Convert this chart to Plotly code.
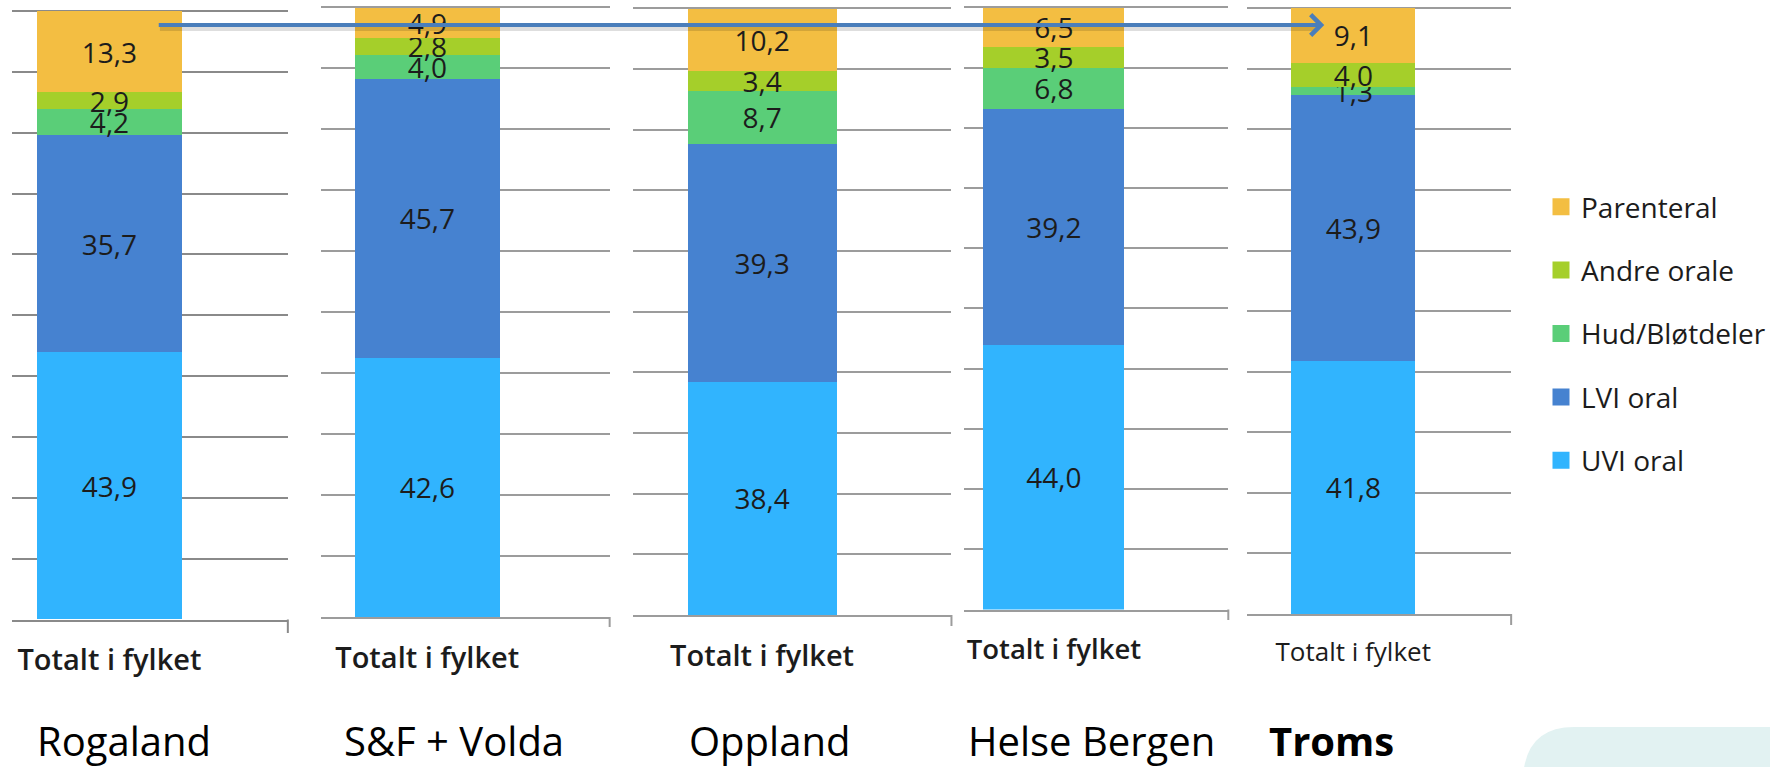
import plotly.graph_objects as go

# ---------------- data ----------------
regions = ["Rogaland", "S&F + Volda", "Oppland", "Helse Bergen", "Troms"]
category = "Totalt i fylket"
series_names = ["UVI oral", "LVI oral", "Hud/Bløtdeler", "Andre orale", "Parenteral"]
uvi_oral = [43.9, 42.6, 38.4, 44.0, 41.8]
lvi_oral = [35.7, 45.7, 39.3, 39.2, 43.9]
hud_blotdeler = [4.2, 4.0, 8.7, 6.8, 1.3]
andre_orale = [2.9, 2.8, 3.4, 3.5, 4.0]
parenteral = [13.3, 4.9, 10.2, 6.5, 9.1]

series_values = [uvi_oral, lvi_oral, hud_blotdeler, andre_orale, parenteral]
series_colors = ["#31b4fe", "#4682d0", "#5ace78", "#a5cf2a", "#f3be42"]

# ---------------- layout geometry (pixels) ----------------
W, H = 1771, 767
panels = [
    dict(gl=12, gr=288, bl=37, br=182, y0=619.5, y100=11.0, tick=633, tx=35, lab=29, lw=600, grid="#8a8a8a", bold=False),
    dict(gl=321, gr=610, bl=355, br=500, y0=617.0, y100=7.3, tick=627, tx=342, lab=29, lw=600, grid="#9c9c9c", bold=False),
    dict(gl=633, gr=952, bl=688, br=837, y0=615.0, y100=8.3, tick=626, tx=687, lab=29, lw=600, grid="#9c9c9c", bold=False),
    dict(gl=965, gr=1229, bl=984, br=1125, y0=609.5, y100=7.5, tick=620, tx=967, lab=27.5, lw=600, grid="#9c9c9c", bold=False),
    dict(gl=1248, gr=1512, bl=1292, br=1416, y0=614.0, y100=8.3, tick=625, tx=1268, lab=26, lw=400, grid="#9c9c9c", bold=True),
]
FONT = "Open Sans"
TXT = "#1c1c1c"
YTOP = 100.6  # range top slightly above 100 so the 100 gridline is drawn


def fmt(v):
    return f"{v:.1f}".replace(".", ",")


fig = go.Figure()
layout = dict(
    width=W, height=H, margin=dict(l=0, r=0, t=0, b=0),
    paper_bgcolor="white", plot_bgcolor="white", template="none",
    barmode="stack", bargap=0, showlegend=True,
    font=dict(family=FONT, color=TXT),
)
shapes = []
annotations = []

for i, p in enumerate(panels):
    n = i + 1
    xa = "x" if n == 1 else f"x{n}"
    ya = "y" if n == 1 else f"y{n}"
    bw = p["br"] - p["bl"]
    rng = [-0.5 - (p["bl"] - p["gl"]) / bw, 0.5 + (p["gr"] - p["br"]) / bw]
    top_px = p["y0"] - (p["y0"] - p["y100"]) * YTOP / 100
    for s, vals, col in zip(series_names, series_values, series_colors):
        fig.add_trace(go.Bar(
            x=[category], y=[vals[i]], name=s, xaxis=xa, yaxis=ya, width=1,
            marker=dict(color=col, line=dict(width=0)),
            text=[fmt(vals[i])], textposition="inside", insidetextanchor="middle",
            textangle=0, constraintext="none",
            textfont=dict(family=FONT, size=28, color=TXT),
            showlegend=False, hoverinfo="skip",
        ))
    layout["xaxis" if n == 1 else f"xaxis{n}"] = dict(
        domain=[p["gl"] / W, p["gr"] / W], anchor=ya, type="category", range=rng,
        showgrid=False, zeroline=False, showline=True, linecolor=p["grid"], linewidth=2,
        ticks="", ticklabelstandoff=14,
        tickfont=dict(family=FONT, size=p["lab"], color=TXT, weight=p["lw"]),
        fixedrange=True,
    )
    layout["yaxis" if n == 1 else f"yaxis{n}"] = dict(
        domain=[(H - p["y0"]) / H, (H - top_px) / H], anchor=xa, range=[0, YTOP],
        tickvals=list(range(0, 101, 10)), showgrid=True, gridcolor=p["grid"], gridwidth=2,
        showticklabels=False, zeroline=False, showline=False, ticks="", fixedrange=True,
    )
    # right-end tick mark of the category axis
    shapes.append(dict(type="line", xref="paper", yref="paper",
                       x0=p["gr"] / W, x1=p["gr"] / W,
                       y0=(H - p["y0"]) / H, y1=(H - p["tick"]) / H,
                       line=dict(color=p["grid"], width=2)))
    annotations.append(dict(
        text=regions[i], xref="paper", yref="paper", x=p["tx"] / W, y=1 - 740 / H,
        xanchor="left", yanchor="middle", showarrow=False,
        font=dict(family=FONT, size=40, color="#000000", weight=700 if p["bold"] else 400),
    ))

# legend entries (no data, only for the legend)
for rank, (s, col) in enumerate(zip(series_names, series_colors)):
    fig.add_trace(go.Bar(
        x=[None], y=[None], name=s, xaxis="x5", yaxis="y5", width=1,
        marker=dict(color=col, line=dict(color=col, width=5)),
        legendgroup=s, legendrank=10 - rank, showlegend=True, hoverinfo="skip",
    ))

layout["legend"] = dict(
    x=1542 / W, xanchor="left", y=1 - 182 / H, yanchor="top",
    font=dict(family=FONT, size=28, color=TXT),
    traceorder="grouped", tracegroupgap=24, bgcolor="rgba(0,0,0,0)",
    borderwidth=0, itemclick=False, itemdoubleclick=False,
)

# arrow from Rogaland to Troms (with a soft shadow)
shapes.append(dict(type="line", xref="paper", yref="paper",
                   x0=160 / W, x1=1318 / W, y0=1 - 29 / H, y1=1 - 29 / H,
                   line=dict(color="rgba(0,0,0,0.13)", width=4)))
annotations.append(dict(
    text="", x=1325 / W, y=1 - 25 / H, xref="paper", yref="paper",
    ax=158 - 1325, ay=0, axref="pixel", ayref="pixel",
    showarrow=True, arrowhead=4, arrowsize=1, arrowwidth=4, arrowcolor="#4a7ebb",
    standoff=0, startstandoff=0,
))

# decorative teal corner
def px(x, y):
    return f"{x / W:.5f},{1 - y / H:.5f}"

shapes.append(dict(
    type="path", xref="paper", yref="paper", layer="below",
    path=f"M {px(1525, 767)} Q {px(1532, 727)} {px(1575, 727)} L {px(1771, 727)} L {px(1771, 767)} Z",
    fillcolor="#e2f2f2", line=dict(width=0),
))

layout["shapes"] = shapes
layout["annotations"] = annotations
fig.update_layout(**layout)
fig.write_html("out.html", config={"displayModeBar": False},
               post_script="document.body.style.margin='0px';")
